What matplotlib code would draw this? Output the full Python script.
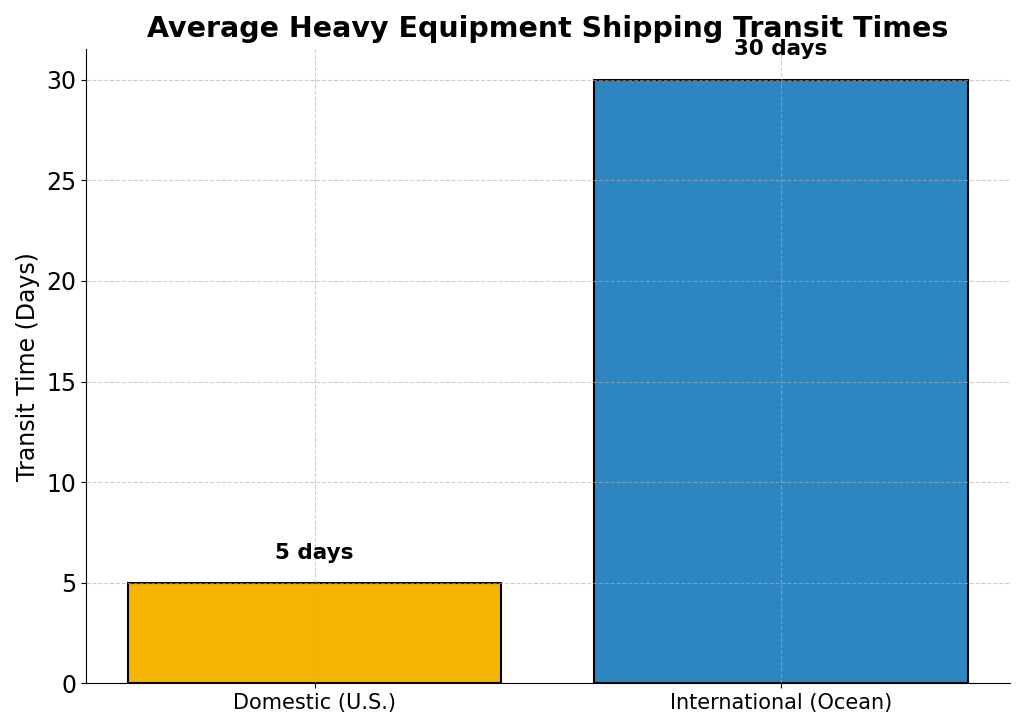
import matplotlib
matplotlib.use("Agg")
import matplotlib.pyplot as plt

categories = ["Domestic (U.S.)", "International (Ocean)"]
transit_days = [5, 30]
bar_colors = ["#F4B400", "#2E86C1"]

fig = plt.figure(figsize=(10.24, 7.27), dpi=100)
ax = fig.add_axes([0.084, 0.06, 0.902, 0.872])

bars = ax.bar(categories, transit_days, color=bar_colors, edgecolor="black",
              linewidth=1.5, width=0.8, zorder=1)
for bar, val in zip(bars, transit_days):
    ax.text(bar.get_x() + bar.get_width() / 2, val + 1.0, f"{val} days",
            ha="center", va="bottom", fontsize=15.5, fontweight="bold")

ax.set_ylim(0, 31.5)
ax.set_yticks(range(0, 31, 5))
ax.tick_params(axis="y", labelsize=17)
ax.tick_params(axis="x", labelsize=15)
ax.set_ylabel("Transit Time (Days)", fontsize=17)
ax.set_title("Average Heavy Equipment Shipping Transit Times",
             fontsize=20.5, fontweight="bold", pad=9)
ax.grid(True, linestyle="--", alpha=0.6, zorder=3)
ax.set_axisbelow(False)
ax.spines["top"].set_visible(False)
ax.spines["right"].set_visible(False)

fig.savefig("out.png", dpi=100)
